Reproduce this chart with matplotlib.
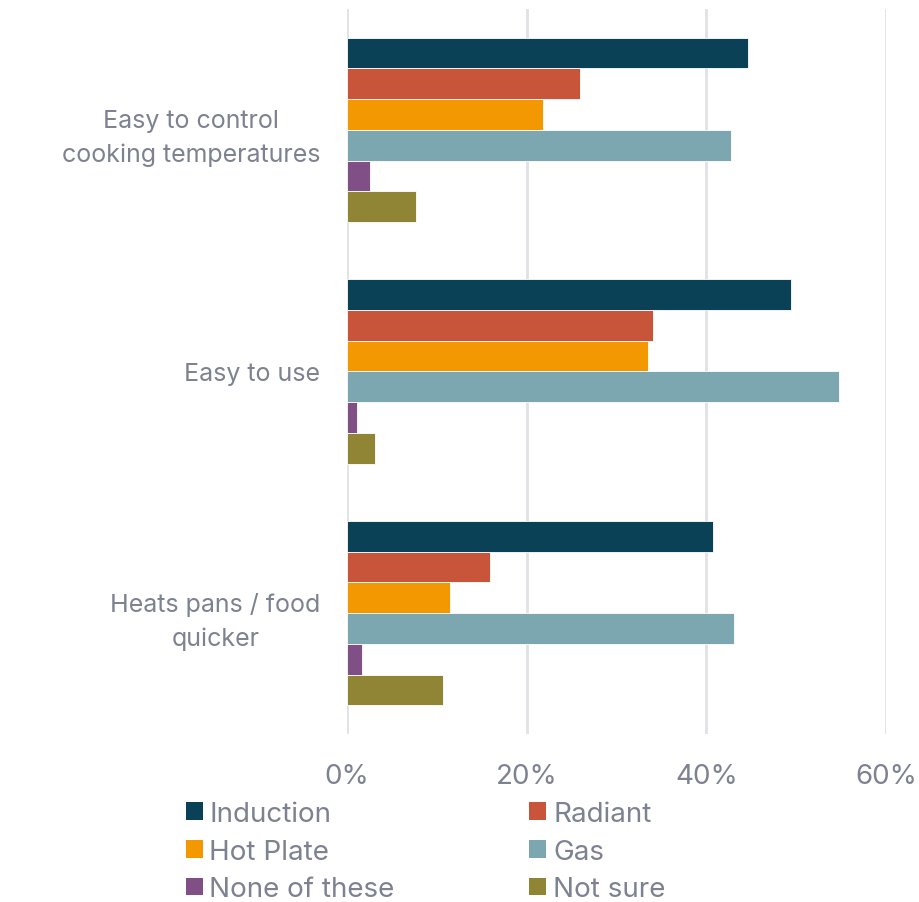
import numpy as np
import matplotlib
matplotlib.use("Agg")
import matplotlib.pyplot as plt
from matplotlib.patches import Patch
from matplotlib.ticker import FuncFormatter

CATEGORIES = [
    "Easy to control\ncooking temperatures",
    "Easy to use",
    "Heats pans / food\nquicker",
]
SERIES = ["Induction", "Radiant", "Hot Plate", "Gas", "None of these", "Not sure"]
COLORS = ["#0a4157", "#c8553a", "#f39800", "#7ca7b0", "#7f4f85", "#8f8535"]

# share of respondents (%), one list per series, same order as CATEGORIES
INDUCTION = [44.6, 49.4, 40.7]
RADIANT = [26.0, 34.1, 15.9]
HOT_PLATE = [21.8, 33.5, 11.5]
GAS = [42.7, 54.8, 43.1]
NONE_OF_THESE = [2.55, 1.1, 1.7]
NOT_SURE = [7.7, 3.1, 10.7]

VALUES = [INDUCTION, RADIANT, HOT_PLATE, GAS, NONE_OF_THESE, NOT_SURE]
TEXT_COLOR = "#7d8291"

plt.rcParams["font.family"] = ["Inter", "DejaVu Sans"]

fig = plt.figure(figsize=(9.2, 9.03), dpi=100)
ax = fig.add_axes([0.377, 0.186, 0.586, 0.803])

y = np.arange(len(CATEGORIES))
group_h = 0.763
bar_h = group_h / len(SERIES)

for i, (name, vals, col) in enumerate(zip(SERIES, VALUES, COLORS)):
    offs = (i - (len(SERIES) - 1) / 2) * bar_h
    ax.barh(y + offs, vals, height=bar_h, color=col, label=name,
            edgecolor="white", linewidth=0.6, zorder=3)

ax.set_xlim(0, 60)
ax.set_ylim(len(CATEGORIES) - 0.5, -0.5)
ax.set_xticks([0, 20, 40, 60])
ax.xaxis.set_major_formatter(FuncFormatter(lambda v, p: f"{v:.0f}%"))
ax.set_yticks(y)
ax.set_yticklabels(CATEGORIES, fontsize=18, color=TEXT_COLOR,
                   multialignment="center", linespacing=1.55)
ax.tick_params(axis="y", length=0, pad=19)
ax.tick_params(axis="x", length=0, pad=21, labelsize=20, labelcolor=TEXT_COLOR)
ax.grid(axis="x", color="#e1e1e6", linewidth=2, zorder=0)
for s in ax.spines.values():
    s.set_visible(False)

# legend in two columns, filled row by row
handles = [Patch(facecolor=c, edgecolor="none", label=n) for n, c in zip(SERIES, COLORS)]
order = [0, 2, 4, 1, 3, 5]
leg = fig.legend([handles[k] for k in order], [SERIES[k] for k in order],
                 ncol=2, loc="upper left", bbox_to_anchor=(0.202, 0.112),
                 frameon=False, fontsize=20, handlelength=0.6, handleheight=0.6,
                 handletextpad=0.25, columnspacing=4.85, labelspacing=0.42,
                 borderaxespad=0, borderpad=0)
for t in leg.get_texts():
    t.set_color(TEXT_COLOR)

fig.savefig("out.png", dpi=100, facecolor="white")
